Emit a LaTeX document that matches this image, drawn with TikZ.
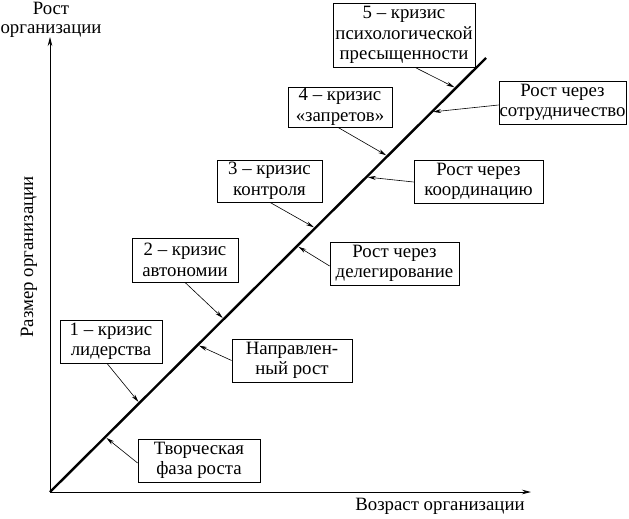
\documentclass[tikz,border=0pt]{standalone}
\usepackage{fontspec}
\setmainfont{Liberation Serif}
\usetikzlibrary{arrows.meta,calc}
\begin{document}
\begin{tikzpicture}[x=1pt,y=-1pt,
  txt/.style={font=\fontsize{18.8}{20.5}\selectfont, align=center, inner sep=0pt},
  bx/.style={txt, draw, line width=0.8pt, minimum width=#1, minimum height=43pt},
  arr/.style={line width=0.6pt, -{Stealth[length=8pt,width=4pt]}},
  axis/.style={line width=0.8pt, -{Stealth[length=9pt,width=4.5pt]}}]
\useasboundingbox (0,0) rectangle (629,519);
\coordinate (O) at (50,492);
\coordinate (Y) at (50,37);
\coordinate (X) at (531,492);
\coordinate (T) at (486,58);
\draw[axis] (O) -- (Y);
\draw[axis] (O) -- (X);
\draw[line width=2.4pt] (O) -- (T);
\node[txt, font=\fontsize{18.8}{19}\selectfont] (ylab) at (51,19.5) {Рост\\организации};
\node[txt] (xlab) at (440,506) {Возраст организации};
\node[txt, rotate=90] (ysize) at (29,257) {Размер организации};
% boxes
\node[bx=142pt, minimum height=64pt] (b5) at (404,35) {5 -- кризис\\психологической\\пресыщенности};
\node[bx=127pt] (bs) at (562.5,102.5) {Рост через\\сотрудничество};
\node[bx=104pt, minimum height=40pt] (b4) at (340,107) {4 -- кризис\\«запретов»};
\node[bx=129pt] (bk) at (478.5,181.5) {Рост через\\координацию};
\node[bx=105pt, minimum height=42pt] (b3) at (269.5,181) {3 -- кризис\\контроля};
\node[bx=129pt] (bd) at (394.5,263.5) {Рост через\\делегирование};
\node[bx=106pt, minimum height=44pt] (b2) at (185,260) {2 -- кризис\\автономии};
\node[bx=102pt] (b1) at (111,341.5) {1 -- кризис\\лидерства};
\node[bx=120pt] (bn) at (292,360.5) {Направлен-\\ный рост};
\node[bx=122pt] (bt) at (199,460.5) {Творческая\\фаза роста};
% points on diagonal
\coordinate (a5) at (455.8,88);
\coordinate (aS) at (431.7,112);
\coordinate (a4) at (387.5,156);
\coordinate (aK) at (366.4,177);
\coordinate (a3) at (315.2,228);
\coordinate (aD) at (297.1,246);
\coordinate (a2) at (223.8,319);
\coordinate (aN) at (197.7,345);
\coordinate (a1) at (139.4,403);
\coordinate (aT) at (105.3,437);
\draw[arr, shorten >=1.5pt] ($(b5.south)+(11,0)$) -- (a5);
\draw[arr, shorten >=1.5pt] ($(bs.west)+(0,2.5)$) -- (aS);
\draw[arr, shorten >=1.5pt] ($(b4.south)+(-2,0)$) -- (a4);
\draw[arr, shorten >=1.5pt] ($(bk.west)+(0,0.5)$) -- (aK);
\draw[arr, shorten >=1.5pt] ($(b3.south)+(0.5,0)$) -- (a3);
\draw[arr, shorten >=1.5pt] ($(bd.west)+(0,2.5)$) -- (aD);
\draw[arr, shorten >=1.5pt] (b2.south) -- (a2);
\draw[arr, shorten >=1.5pt] (bn.west) -- (aN);
\draw[arr, shorten >=1.5pt] ($(b1.south)+(-4,0)$) -- (a1);
\draw[arr, shorten >=1.5pt] ($(bt.west)+(0,2.5)$) -- (aT);
\end{tikzpicture}
\end{document}
